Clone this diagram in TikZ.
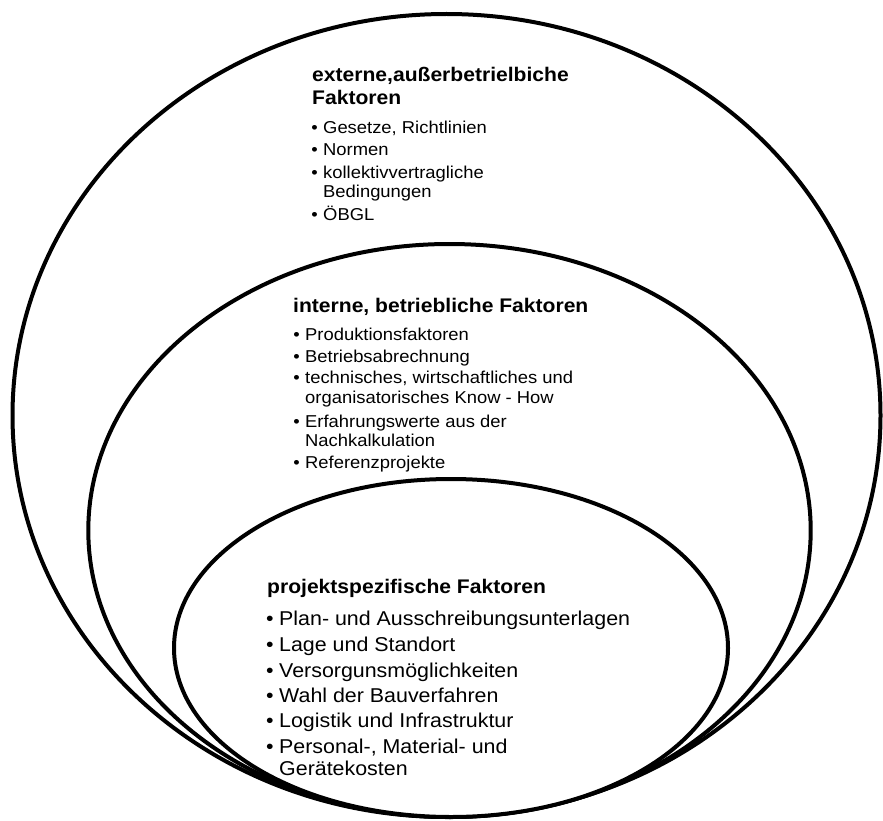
\documentclass[tikz,border=0pt]{standalone}
\usepackage{fontspec}
\setmainfont{Liberation Sans}[FakeStretch=1.07]
\newcommand\bul{\llap{•\hspace{5.5pt}}}
\tikzset{
  ring/.style={draw=black, line width=4pt, fill=white},
  head/.style={anchor=base west, inner sep=0pt, font=\bfseries\fontsize{19.7}{23}\selectfont},
  itemS/.style={anchor=base west, inner sep=0pt, font=\fontsize{17.2}{20}\selectfont},
  itemL/.style={anchor=base west, inner sep=0pt, font=\fontsize{20}{24}\selectfont},
}
\begin{document}
\begin{tikzpicture}[x=1pt,y=-1pt]
\useasboundingbox (0,0) rectangle (883,821);
% ellipses
\draw[ring] (446.5,415.5) ellipse [x radius=434pt, y radius=401.5pt];
\draw[ring] (449.5,530.5) ellipse [x radius=361.2pt, y radius=286.5pt];
\draw[ring] (451,648) ellipse [x radius=277pt, y radius=169pt];
% outer block
\node[head] (eh1) at (312,82) {externe,außerbetrielbiche};
\node[head] (eh2) at (312,105) {Faktoren};
\node[itemS] (e1) at (323,134) {\bul Gesetze, Richtlinien};
\node[itemS] (e2) at (323,156) {\bul Normen};
\node[itemS] (e3) at (323,179) {\bul kollektivvertragliche};
\node[itemS] (e3b) at (323,197) {Bedingungen};
\node[itemS] (e4) at (323,220) {\bul ÖBGL};
% middle block
\node[head] (ih) at (293,312) {interne, betriebliche Faktoren};
\node[itemS] (i1) at (305,340) {\bul Produktionsfaktoren};
\node[itemS] (i2) at (305,362) {\bul Betriebsabrechnung};
\node[itemS] (i3) at (305,383) {\bul technisches, wirtschaftliches und};
\node[itemS] (i3b) at (305,403) {organisatorisches Know - How};
\node[itemS] (i4) at (305,427) {\bul Erfahrungswerte aus der};
\node[itemS] (i4b) at (305,446) {Nachkalkulation};
\node[itemS] (i5) at (305,468) {\bul Referenzprojekte};
% inner block
\node[head] (ph) at (267,593) {projektspezifische Faktoren};
\node[itemL] (p1) at (279,625) {\bul Plan- und Ausschreibungsunterlagen};
\node[itemL] (p2) at (279,651) {\bul Lage und Standort};
\node[itemL] (p3) at (279,677) {\bul Versorgunsmöglichkeiten};
\node[itemL] (p4) at (279,702) {\bul Wahl der Bauverfahren};
\node[itemL] (p5) at (279,727) {\bul Logistik und Infrastruktur};
\node[itemL] (p6) at (279,753) {\bul Personal-, Material- und};
\node[itemL] (p6b) at (279,775) {Gerätekosten};
\end{tikzpicture}
\end{document}
